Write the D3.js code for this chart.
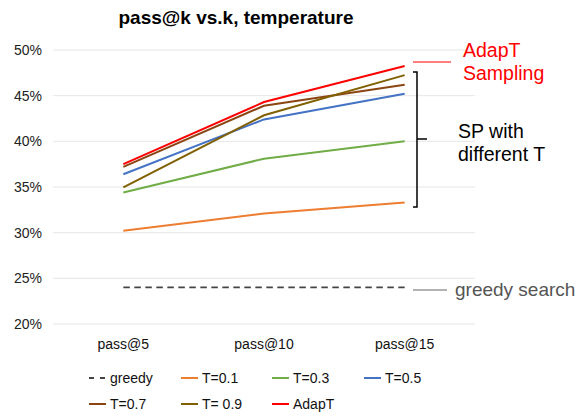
<!DOCTYPE html>
<html><head><meta charset="utf-8">
<script src="https://cdn.jsdelivr.net/npm/d3@7"></script>
<style>body{margin:0;background:#fff;} svg{display:block;font-family:"Liberation Sans",Arial,Helvetica,sans-serif;}</style>
</head><body>
<svg id="chart" width="579" height="418"></svg>
<script>
const categories = ["pass@5", "pass@10", "pass@15"];
const seriesNames = ["greedy", "T=0.1", "T=0.3", "T=0.5", "T=0.7", "T= 0.9", "AdapT"];
const seriesColors = ["#444444", "#ED7D31", "#70AD47", "#4472C4", "#8B4513", "#806000", "#FF0000"];
const greedy = [24.0, 24.0, 24.0];
const t01 = [30.2, 32.1, 33.3];
const t03 = [34.4, 38.1, 40.0];
const t05 = [36.4, 42.4, 45.2];
const t07 = [37.2, 43.9, 46.2];
const t09 = [34.95, 42.85, 47.25];
const adapt = [37.5, 44.3, 48.25];
const yTicks = [20, 25, 30, 35, 40, 45, 50];
const title = "pass@k vs.k, temperature";

const seriesValues = [greedy, t01, t03, t05, t07, t09, adapt];
const svg = d3.select("#chart");
const L = 53, R = 475, T = 50, B = 324;
const x = d3.scaleBand().domain(categories).range([L, R]);
const y = d3.scaleLinear().domain([20, 50]).range([B, T]);

// title
svg.append("text").attr("x", 236).attr("y", 24).attr("text-anchor", "middle")
  .attr("font-size", 19).attr("font-weight", "bold").attr("fill", "#000").text(title);

// grid
svg.append("g").selectAll("line").data(yTicks).join("line")
  .attr("x1", L).attr("x2", R).attr("y1", d => y(d)).attr("y2", d => y(d))
  .attr("stroke", "#e6e6e6").attr("stroke-width", 1);
// y labels
svg.append("g").selectAll("text").data(yTicks).join("text")
  .attr("x", 42).attr("y", d => y(d) + 5).attr("text-anchor", "end")
  .attr("font-size", 14).attr("fill", "#222").text(d => d + "%");
// x labels
svg.append("g").selectAll("text").data(categories).join("text")
  .attr("x", d => x(d) + x.bandwidth() / 2).attr("y", 349).attr("text-anchor", "middle")
  .attr("font-size", 14).attr("fill", "#111").text(d => d);

const line = d3.line().x((d, i) => x(categories[i]) + x.bandwidth() / 2).y(d => y(d));
seriesValues.forEach((vals, i) => {
  svg.append("path").datum(vals).attr("d", line).attr("fill", "none")
    .attr("stroke", seriesColors[i]).attr("stroke-width", i === 0 ? 1.8 : 2)
    .attr("stroke-dasharray", i === 0 ? "6.5,4.5" : null);
});

// legend
const legX = [89, 181, 272, 364];
seriesNames.forEach((n, i) => {
  const lx = legX[i % 4], ly = i < 4 ? 383 : 409;
  const g = svg.append("g");
  g.append("line").attr("x1", lx).attr("x2", lx + 17).attr("y1", ly - 5).attr("y2", ly - 5)
    .attr("stroke", seriesColors[i]).attr("stroke-width", 2)
    .attr("stroke-dasharray", i === 0 ? "5,6" : null);
  g.append("text").attr("x", lx + 21).attr("y", ly).attr("font-size", 14).attr("fill", "#111").text(n);
});

// annotations
svg.append("line").attr("x1", 413).attr("x2", 451).attr("y1", 62).attr("y2", 62).attr("stroke", "#FF0000").attr("stroke-width", 1.2);
svg.append("text").attr("x", 463).attr("y", 57).attr("font-size", 19.5).attr("fill", "#FF0000").text("AdapT");
svg.append("text").attr("x", 463).attr("y", 80).attr("font-size", 19.5).attr("fill", "#FF0000").text("Sampling");

svg.append("path").attr("d", "M413,72 H417 V207 H413 M417,139 H427").attr("fill", "none").attr("stroke", "#000").attr("stroke-width", 1.5);
svg.append("text").attr("x", 458).attr("y", 138).attr("font-size", 19.5).attr("fill", "#000").text("SP with");
svg.append("text").attr("x", 458).attr("y", 161).attr("font-size", 19.5).attr("fill", "#000").text("different T");

svg.append("line").attr("x1", 413).attr("x2", 447).attr("y1", 290).attr("y2", 290).attr("stroke", "#666").attr("stroke-width", 1.2);
svg.append("text").attr("x", 455).attr("y", 296).attr("font-size", 19).attr("fill", "#555").text("greedy search");
</script>
</body></html>
